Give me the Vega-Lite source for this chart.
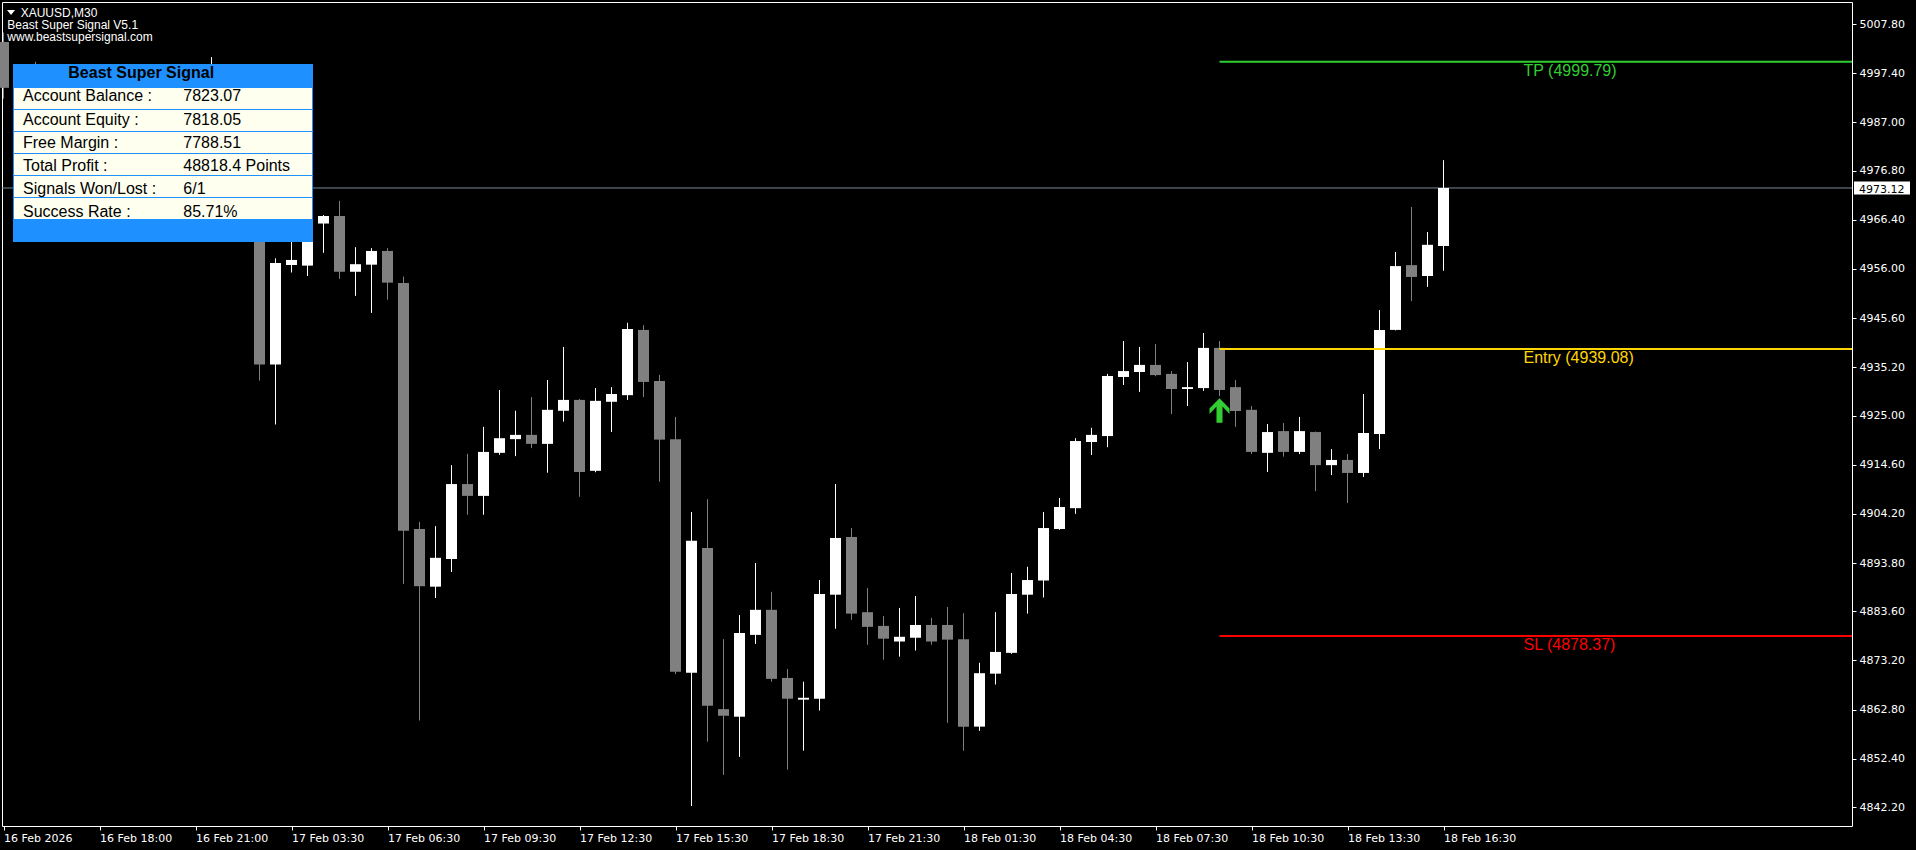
{
  "$schema": "https://vega.github.io/schema/vega-lite/v6.json",
  "width": 1850,
  "height": 824,
  "autosize": {"type": "none"},
  "padding": {"left": 2, "top": 2, "right": 64, "bottom": 24},
  "background": "#000000",
  "config": {
    "view": {"stroke": "#FFFFFF", "strokeWidth": 1},
    "scale": {"continuousPadding": 0},
    "axis": {"labelFont": "DejaVu Sans", "labelFontSize": 11, "labelColor": "#FFFFFF", "tickColor": "#FFFFFF", "domain": false, "grid": false, "title": null}
  },
  "datasets": {
    "candles": [
      {"i":0,"o":5004.0,"h":5006.0,"l":4992.0,"c":4994.3},
      {"i":1,"o":4994.3,"h":4998.5,"l":4990.0,"c":4997.0},
      {"i":2,"o":4997.0,"h":4999.8,"l":4988.0,"c":4991.0},
      {"i":3,"o":4991.0,"h":4993.0,"l":4981.0,"c":4984.0},
      {"i":4,"o":4984.0,"h":4990.0,"l":4982.0,"c":4988.0},
      {"i":5,"o":4988.0,"h":4989.0,"l":4977.0,"c":4980.0},
      {"i":6,"o":4980.0,"h":4983.0,"l":4972.0,"c":4975.0},
      {"i":7,"o":4975.0,"h":4985.0,"l":4973.0,"c":4982.0},
      {"i":8,"o":4982.0,"h":4990.0,"l":4980.0,"c":4987.0},
      {"i":9,"o":4987.0,"h":4991.0,"l":4981.0,"c":4983.0},
      {"i":10,"o":4983.0,"h":4993.0,"l":4982.0,"c":4990.0},
      {"i":11,"o":4990.0,"h":4997.0,"l":4988.0,"c":4994.0},
      {"i":12,"o":4994.0,"h":4996.0,"l":4986.0,"c":4989.0},
      {"i":13,"o":4989.0,"h":5000.8,"l":4987.0,"c":4993.0},
      {"i":14,"o":4993.0,"h":4995.0,"l":4979.0,"c":4982.0},
      {"i":15,"o":4982.0,"h":4984.0,"l":4966.0,"c":4970.0},
      {"i":16,"o":4970.0,"h":4972.0,"l":4932.4,"c":4935.8},
      {"i":17,"o":4935.8,"h":4958.25,"l":4923.1,"c":4957.25},
      {"i":18,"o":4956.83,"h":4965.0,"l":4955.24,"c":4957.9},
      {"i":19,"o":4956.7,"h":4967.0,"l":4954.5,"c":4965.0},
      {"i":20,"o":4965.6,"h":4967.4,"l":4959.4,"c":4967.2},
      {"i":21,"o":4967.2,"h":4970.4,"l":4953.9,"c":4955.4},
      {"i":22,"o":4955.4,"h":4960.6,"l":4950.3,"c":4957.0},
      {"i":23,"o":4956.9,"h":4960.4,"l":4946.7,"c":4959.8},
      {"i":24,"o":4959.8,"h":4960.4,"l":4949.5,"c":4953.1},
      {"i":25,"o":4953.0,"h":4954.4,"l":4889.4,"c":4900.6},
      {"i":26,"o":4901.0,"h":4902.5,"l":4860.5,"c":4888.9},
      {"i":27,"o":4888.8,"h":4901.6,"l":4886.4,"c":4894.9},
      {"i":28,"o":4894.65,"h":4914.5,"l":4891.9,"c":4910.5},
      {"i":29,"o":4910.5,"h":4916.9,"l":4904.0,"c":4908.0},
      {"i":30,"o":4908.0,"h":4922.6,"l":4904.0,"c":4917.3},
      {"i":31,"o":4917.1,"h":4930.4,"l":4916.7,"c":4920.2},
      {"i":32,"o":4920.0,"h":4926.0,"l":4916.4,"c":4920.9},
      {"i":33,"o":4920.9,"h":4928.9,"l":4918.1,"c":4919.0},
      {"i":34,"o":4919.0,"h":4932.5,"l":4912.9,"c":4926.2},
      {"i":35,"o":4926.0,"h":4939.5,"l":4923.7,"c":4928.3},
      {"i":36,"o":4928.3,"h":4928.5,"l":4907.8,"c":4913.05},
      {"i":37,"o":4913.3,"h":4930.8,"l":4913.0,"c":4928.1},
      {"i":38,"o":4927.9,"h":4931.0,"l":4921.5,"c":4929.55},
      {"i":39,"o":4929.3,"h":4944.6,"l":4928.3,"c":4943.3},
      {"i":40,"o":4943.1,"h":4944.1,"l":4928.9,"c":4932.1},
      {"i":41,"o":4932.3,"h":4933.6,"l":4911.0,"c":4919.9},
      {"i":42,"o":4920.0,"h":4924.7,"l":4870.3,"c":4870.8},
      {"i":43,"o":4870.6,"h":4904.6,"l":4842.4,"c":4898.5},
      {"i":44,"o":4897.0,"h":4907.3,"l":4856.0,"c":4863.6},
      {"i":45,"o":4862.9,"h":4877.7,"l":4849.0,"c":4861.5},
      {"i":46,"o":4861.3,"h":4882.8,"l":4852.8,"c":4879.0},
      {"i":47,"o":4878.6,"h":4893.8,"l":4876.7,"c":4883.9},
      {"i":48,"o":4883.9,"h":4887.7,"l":4868.7,"c":4869.3},
      {"i":49,"o":4869.5,"h":4871.4,"l":4850.1,"c":4865.1},
      {"i":50,"o":4864.9,"h":4868.7,"l":4854.1,"c":4865.3},
      {"i":51,"o":4865.1,"h":4890.2,"l":4862.6,"c":4887.25},
      {"i":52,"o":4887.1,"h":4910.5,"l":4879.9,"c":4899.1},
      {"i":53,"o":4899.3,"h":4901.2,"l":4881.8,"c":4883.1},
      {"i":54,"o":4883.4,"h":4888.5,"l":4876.5,"c":4880.3},
      {"i":55,"o":4880.5,"h":4882.6,"l":4873.35,"c":4877.8},
      {"i":56,"o":4877.2,"h":4884.3,"l":4874.0,"c":4878.2},
      {"i":57,"o":4878.0,"h":4886.8,"l":4875.3,"c":4880.7},
      {"i":58,"o":4880.7,"h":4882.2,"l":4876.5,"c":4877.2},
      {"i":59,"o":4880.7,"h":4884.5,"l":4860.0,"c":4877.6},
      {"i":60,"o":4877.7,"h":4883.2,"l":4854.1,"c":4859.2},
      {"i":61,"o":4859.2,"h":4872.7,"l":4858.3,"c":4870.5},
      {"i":62,"o":4870.4,"h":4883.4,"l":4868.1,"c":4875.0},
      {"i":63,"o":4874.8,"h":4891.7,"l":4874.6,"c":4887.25},
      {"i":64,"o":4887.1,"h":4893.0,"l":4883.1,"c":4890.2},
      {"i":65,"o":4890.1,"h":4904.6,"l":4886.5,"c":4901.2},
      {"i":66,"o":4901.0,"h":4907.55,"l":4900.8,"c":4905.65},
      {"i":67,"o":4905.4,"h":4920.2,"l":4904.2,"c":4919.6},
      {"i":68,"o":4919.4,"h":4922.4,"l":4916.65,"c":4920.9},
      {"i":69,"o":4920.65,"h":4933.8,"l":4918.3,"c":4933.35},
      {"i":70,"o":4933.15,"h":4940.75,"l":4931.45,"c":4934.4},
      {"i":71,"o":4934.2,"h":4939.5,"l":4930.0,"c":4935.7},
      {"i":72,"o":4935.7,"h":4940.1,"l":4933.3,"c":4933.55},
      {"i":73,"o":4933.8,"h":4934.4,"l":4925.3,"c":4930.6},
      {"i":74,"o":4930.6,"h":4936.3,"l":4927.0,"c":4931.0},
      {"i":75,"o":4930.8,"h":4942.45,"l":4930.2,"c":4939.3},
      {"i":76,"o":4939.3,"h":4940.75,"l":4929.1,"c":4930.4},
      {"i":77,"o":4931.0,"h":4932.5,"l":4922.6,"c":4925.95},
      {"i":78,"o":4926.2,"h":4927.0,"l":4916.85,"c":4917.3},
      {"i":79,"o":4917.1,"h":4923.2,"l":4913.05,"c":4921.5},
      {"i":80,"o":4921.7,"h":4923.4,"l":4916.3,"c":4917.3},
      {"i":81,"o":4917.3,"h":4924.7,"l":4916.85,"c":4921.7},
      {"i":82,"o":4921.5,"h":4921.6,"l":4909.0,"c":4914.5},
      {"i":83,"o":4914.5,"h":4917.9,"l":4912.4,"c":4915.6},
      {"i":84,"o":4915.6,"h":4916.85,"l":4906.5,"c":4912.85},
      {"i":85,"o":4912.85,"h":4929.55,"l":4912.0,"c":4921.3},
      {"i":86,"o":4921.1,"h":4947.3,"l":4917.9,"c":4943.1},
      {"i":87,"o":4943.1,"h":4959.6,"l":4943.0,"c":4956.6},
      {"i":88,"o":4956.8,"h":4969.1,"l":4949.2,"c":4954.3},
      {"i":89,"o":4954.5,"h":4963.8,"l":4952.2,"c":4961.1},
      {"i":90,"o":4960.85,"h":4979.0,"l":4955.6,"c":4973.12}
    ],
    "levels": [
      {"name":"TP","p":4999.79,"label":"TP (4999.79)"},
      {"name":"Entry","p":4939.08,"label":"Entry (4939.08)"},
      {"name":"SL","p":4878.37,"label":"SL (4878.37)"}
    ],
    "panel": [
      {"r":1,"label":"Account Balance :","value":"7823.07"},
      {"r":2,"label":"Account Equity :","value":"7818.05"},
      {"r":3,"label":"Free Margin :","value":"7788.51"},
      {"r":4,"label":"Total Profit :","value":"48818.4 Points"},
      {"r":5,"label":"Signals Won/Lost :","value":"6/1"},
      {"r":6,"label":"Success Rate :","value":"85.71%"}
    ],
    "one": [{}]
  },
  "layer": [
    {
      "layer": [
        {
          "data": {"name": "one"},
          "mark": {"type": "rule", "color": "#778899", "strokeWidth": 1},
          "encoding": {
            "y": {"datum": 4973.12, "type": "quantitative", "scale": {"domain": [4838.183, 5012.453], "nice": false, "zero": false, "padding": 0},
              "axis": {"orient": "right", "values": [5007.8, 4997.4, 4987.0, 4976.8, 4966.4, 4956.0, 4945.6, 4935.2, 4925.0, 4914.6, 4904.2, 4893.8, 4883.6, 4873.2, 4862.8, 4852.4, 4842.2], "format": ".2f", "tickSize": 4, "labelPadding": 3, "labelAlign": "left", "labelBaseline": "middle", "labelOverlap": false, "labelFlush": false}}
          }
        },
        {
          "data": {"name": "candles"},
          "mark": {"type": "rule", "strokeWidth": 1},
          "encoding": {
            "x": {"field": "i", "type": "quantitative", "scale": {"domain": [-0.09375, 115.53125], "nice": false, "zero": false, "padding": 0},
              "axis": {"values": [0, 6, 12, 18, 24, 30, 36, 42, 48, 54, 60, 66, 72, 78, 84, 90],
                "labelExpr": "['16 Feb 2026','16 Feb 18:00','16 Feb 21:00','17 Feb 03:30','17 Feb 06:30','17 Feb 09:30','17 Feb 12:30','17 Feb 15:30','17 Feb 18:30','17 Feb 21:30','18 Feb 01:30','18 Feb 04:30','18 Feb 07:30','18 Feb 10:30','18 Feb 13:30','18 Feb 16:30'][round(datum.value/6)]",
                "labelAlign": "left", "labelBaseline": "top", "labelPadding": 2, "tickSize": 4, "labelOverlap": false, "labelFlush": false}},
            "y": {"field": "l", "type": "quantitative"},
            "y2": {"field": "h"},
            "color": {"condition": {"test": "datum.c >= datum.o", "value": "#FFFFFF"}, "value": "#808080"}
          }
        },
        {
          "data": {"name": "candles"},
          "mark": {"type": "bar", "size": 11, "orient": "vertical"},
          "encoding": {
            "x": {"field": "i", "type": "quantitative"},
            "y": {"field": "o", "type": "quantitative"},
            "y2": {"field": "c"},
            "color": {"condition": {"test": "datum.c >= datum.o", "value": "#FFFFFF"}, "value": "#808080"}
          }
        },
        {
          "data": {"name": "levels"},
          "mark": {"type": "rule", "strokeWidth": 2},
          "encoding": {
            "x": {"datum": 76, "type": "quantitative"},
            "x2": {"datum": 115.53125},
            "y": {"field": "p", "type": "quantitative"},
            "color": {"field": "name", "type": "nominal", "scale": {"domain": ["TP", "Entry", "SL"], "range": ["#32CD32", "#FFD700", "#FF0000"]}, "legend": null}
          }
        },
        {
          "data": {"name": "levels"},
          "mark": {"type": "text", "align": "left", "baseline": "alphabetic", "dy": 14, "font": "Liberation Sans", "fontSize": 16},
          "encoding": {
            "x": {"datum": 95, "type": "quantitative"},
            "y": {"field": "p", "type": "quantitative"},
            "text": {"field": "label"},
            "color": {"field": "name", "type": "nominal", "legend": null}
          }
        },
        {
          "data": {"name": "one"},
          "mark": {"type": "point", "shape": "M0,-0.98L0.8,-0.16L0.8,0.28L0.24,-0.32L0.24,0.98L-0.24,0.98L-0.24,-0.32L-0.8,0.28L-0.8,-0.16Z", "size": 625, "filled": true, "opacity": 1, "color": "#32CD32"},
          "encoding": {
            "x": {"datum": 76, "type": "quantitative"},
            "y": {"datum": 4926.06, "type": "quantitative"}
          }
        },
        {
          "data": {"name": "one"},
          "mark": {"type": "point", "shape": "M-1,-0.6L1,-0.6L0,0.6Z", "size": 64, "filled": true, "opacity": 1, "color": "#FFFFFF"},
          "encoding": {
            "x": {"datum": 0.47, "type": "quantitative"},
            "y": {"datum": 5010.23, "type": "quantitative"}
          }
        },
        {
          "data": {"name": "one"},
          "mark": {"type": "text", "text": "XAUUSD,M30", "align": "left", "baseline": "alphabetic", "font": "Liberation Sans", "fontSize": 12, "color": "#FFFFFF"},
          "encoding": {
            "x": {"datum": 1.075, "type": "quantitative"},
            "y": {"datum": 5009.34, "type": "quantitative"}
          }
        },
        {
          "data": {"name": "one"},
          "mark": {"type": "text", "text": "Beast Super Signal V5.1", "align": "left", "baseline": "alphabetic", "font": "Liberation Sans", "fontSize": 12, "color": "#FFFFFF"},
          "encoding": {
            "x": {"datum": 0.2375, "type": "quantitative"},
            "y": {"datum": 5006.68, "type": "quantitative"}
          }
        },
        {
          "data": {"name": "one"},
          "mark": {"type": "text", "text": "www.beastsupersignal.com", "align": "left", "baseline": "alphabetic", "font": "Liberation Sans", "fontSize": 12, "color": "#FFFFFF"},
          "encoding": {
            "x": {"datum": 0.2375, "type": "quantitative"},
            "y": {"datum": 5004.27, "type": "quantitative"}
          }
        },
        {
          "data": {"name": "one"},
          "mark": {"type": "bar", "orient": "horizontal", "size": 13, "color": "#FFFFFF"},
          "encoding": {
            "x": {"datum": 115.656, "type": "quantitative"},
            "x2": {"datum": 119.156},
            "y": {"datum": 4973.12, "type": "quantitative"}
          }
        },
        {
          "data": {"name": "one"},
          "mark": {"type": "text", "text": "4973.12", "align": "left", "baseline": "alphabetic", "font": "DejaVu Sans", "fontSize": 11, "color": "#000000"},
          "encoding": {
            "x": {"datum": 115.97, "type": "quantitative"},
            "y": {"datum": 4972.12, "type": "quantitative"}
          }
        }
      ]
    },
    {
      "layer": [
        {
          "data": {"name": "one"},
          "mark": {"type": "bar", "orient": "horizontal", "size": 178, "color": "#1E90FF"},
          "encoding": {
            "x": {"datum": 0.59375, "type": "quantitative", "scale": {"domain": [-0.09375, 115.53125], "nice": false, "zero": false, "padding": 0}, "axis": null},
            "x2": {"datum": 19.34375},
            "y": {"datum": 3.4773, "type": "quantitative", "scale": {"domain": [-3.3864, 34.0682], "reverse": true, "nice": false, "zero": false, "padding": 0}, "axis": null}
          }
        },
        {
          "data": {"name": "panel"},
          "mark": {"type": "bar", "orient": "horizontal", "size": 21, "color": "#FFFFF0"},
          "encoding": {
            "x": {"datum": 0.65625, "type": "quantitative"},
            "x2": {"datum": 19.28125},
            "y": {"field": "r", "type": "quantitative"}
          }
        }
      ]
    },
    {
      "layer": [
        {
          "data": {"name": "one"},
          "mark": {"type": "text", "text": "Beast Super Signal", "align": "left", "baseline": "alphabetic", "font": "Liberation Sans", "fontSize": 16, "fontWeight": "bold", "color": "#000000"},
          "encoding": {
            "x": {"datum": 4.05, "type": "quantitative", "scale": {"domain": [-0.09375, 115.53125], "nice": false, "zero": false, "padding": 0}, "axis": null},
            "y": {"datum": 0, "type": "quantitative", "scale": {"domain": [-3.3148, 32.418], "reverse": true, "nice": false, "zero": false, "padding": 0}, "axis": null}
          }
        },
        {
          "data": {"name": "panel"},
          "mark": {"type": "text", "align": "left", "baseline": "alphabetic", "font": "Liberation Sans", "fontSize": 16, "color": "#000000"},
          "encoding": {
            "x": {"datum": 1.21875, "type": "quantitative"},
            "y": {"field": "r", "type": "quantitative"},
            "text": {"field": "label"}
          }
        },
        {
          "data": {"name": "panel"},
          "mark": {"type": "text", "align": "left", "baseline": "alphabetic", "font": "Liberation Sans", "fontSize": 16, "color": "#000000"},
          "encoding": {
            "x": {"datum": 11.2375, "type": "quantitative"},
            "y": {"field": "r", "type": "quantitative"},
            "text": {"field": "value"}
          }
        }
      ]
    }
  ],
  "resolve": {"scale": {"x": "independent", "y": "independent"}, "axis": {"x": "independent", "y": "independent"}}
}
